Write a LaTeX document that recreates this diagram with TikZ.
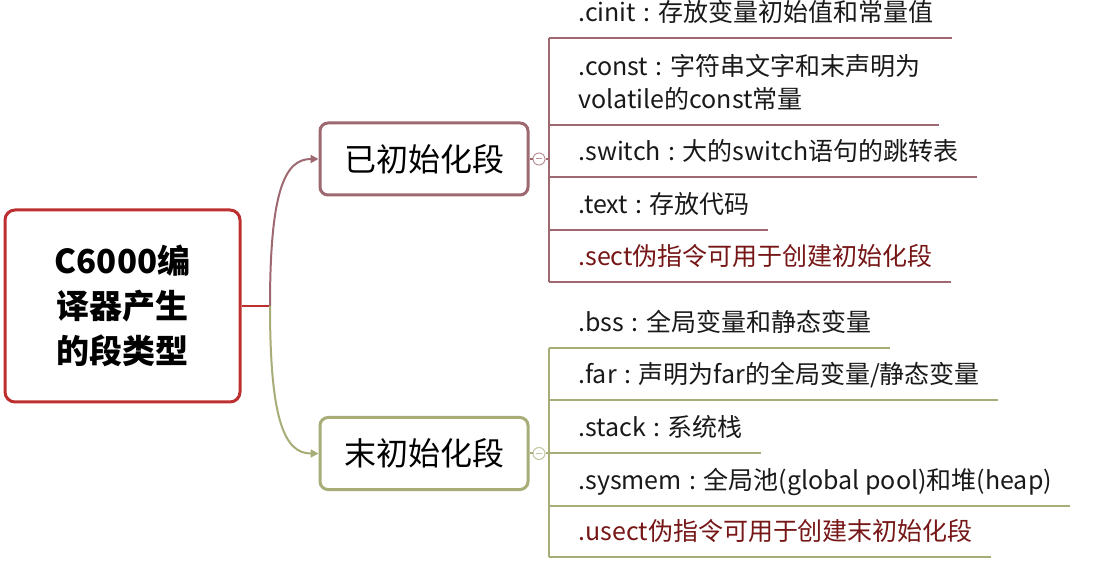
\documentclass[tikz,border=0pt]{standalone}
\usepackage{xcolor}
\usepackage{fontspec}
\setmainfont{Noto Sans CJK SC}[BoldFont={Noto Sans CJK SC Black}]
\usetikzlibrary{arrows.meta,positioning}

\definecolor{rootred}{RGB}{190,48,48}
\definecolor{initmauve}{RGB}{158,104,112}
\definecolor{bssolive}{RGB}{168,172,118}
\definecolor{noteRed}{RGB}{118,22,22}
\newcommand{\colonsep}{\hspace{0.3em}:\hspace{0.3em}}

\begin{document}
\begin{tikzpicture}[
    x=0.5pt, y=-0.5pt,
    root/.style={rectangle, rounded corners=5pt, draw=rootred, line width=1.5pt, minimum width=117.5pt, minimum height=96pt, align=center, font=\fontsize{16.5}{22.5}\selectfont\bfseries},
    group/.style={rectangle, rounded corners=4pt, line width=1.5pt, minimum width=104pt, minimum height=36pt, font=\fontsize{16}{18}\selectfont},
    item/.style={anchor=south west, inner xsep=9pt, inner ysep=3pt, text depth=5pt, align=left, text=black!90, font=\fontsize{12.5}{16.5}\selectfont},
    fold/.style={circle, draw, fill=white, line width=0.5pt, minimum size=6pt, inner sep=0pt},
    link/.style={line width=1pt},
    tip/.style={-{Triangle[length=4pt,width=4pt]}}
]
    \useasboundingbox (0,0) rectangle (1100,567);

    % Root
    \node[root] (root) at (122.5,306) {C6000编\\译器产生\\的段类型};
    \coordinate (fork) at (270,306);

    % Groups
    \node[group, draw=initmauve] (init) at (424,159) {已初始化段};
    \node[group, draw=bssolive] (uninit) at (424,453.5) {末初始化段};

    \draw[link, rootred] (root.east) -- (fork);
    \draw[link, initmauve, tip] (fork) .. controls (270,190) and (285,159) .. (init.west);
    \draw[link, bssolive, tip] (fork) .. controls (270,422) and (285,453.5) .. (uninit.west);

    % Initialized sections
    \node[item] (cinit) at (560,38) {.cinit\colonsep 存放变量初始值和常量值};
    \node[item] (const) at (560,125) {.const\colonsep 字符串文字和末声明为\\volatile的const常量};
    \node[item] (switch) at (560,177) {.switch\colonsep 大的switch语句的跳转表};
    \node[item] (text) at (560,230) {.text\colonsep 存放代码};
    \node[item, text=noteRed] (sect) at (560,282) {.sect伪指令可用于创建初始化段};

    \coordinate (initbar) at (549,159);
    \node[fold, draw=initmauve!70] (initfold) at (539,159) {};
    \draw[initmauve!70, line width=0.5pt] ([xshift=-1.5pt]initfold.center) -- ([xshift=1.5pt]initfold.center);
    \draw[link, initmauve] (init.east) -- (initfold.west);
    \draw[link, initmauve] (initfold.east) -- (initbar);
    \draw[line width=1.2pt, initmauve] (initbar |- cinit.south) -- (initbar |- sect.south);
    \draw[link, initmauve] (initbar |- cinit.south) -- (cinit.south east);
    \draw[link, initmauve] (initbar |- const.south) -- (const.south east);
    \draw[link, initmauve] (initbar |- switch.south) -- (switch.south east);
    \draw[link, initmauve] (initbar |- text.south) -- (text.south east);
    \draw[link, initmauve] (initbar |- sect.south) -- (sect.south east);

    % Uninitialized sections
    \node[item] (bss) at (560,348) {.bss\colonsep 全局变量和静态变量};
    \node[item] (far) at (560,400) {.far\colonsep 声明为far的全局变量/静态变量};
    \node[item] (stack) at (560,453) {.stack\colonsep 系统栈};
    \node[item] (sysmem) at (560,506) {.sysmem\colonsep 全局池(global pool)和堆(heap)};
    \node[item, text=noteRed] (usect) at (560,557) {.usect伪指令可用于创建末初始化段};

    \coordinate (uninitbar) at (549,453.5);
    \node[fold, draw=bssolive!70] (uninitfold) at (539,453.5) {};
    \draw[bssolive!70, line width=0.5pt] ([xshift=-1.5pt]uninitfold.center) -- ([xshift=1.5pt]uninitfold.center);
    \draw[link, bssolive] (uninit.east) -- (uninitfold.west);
    \draw[link, bssolive] (uninitfold.east) -- (uninitbar);
    \draw[line width=1.2pt, bssolive] (uninitbar |- bss.south) -- (uninitbar |- usect.south);
    \draw[link, bssolive] (uninitbar |- bss.south) -- (bss.south east);
    \draw[link, bssolive] (uninitbar |- far.south) -- (far.south east);
    \draw[link, bssolive] (uninitbar |- stack.south) -- (stack.south east);
    \draw[link, bssolive] (uninitbar |- sysmem.south) -- (sysmem.south east);
    \draw[link, bssolive] (uninitbar |- usect.south) -- (usect.south east);
\end{tikzpicture}
\end{document}
